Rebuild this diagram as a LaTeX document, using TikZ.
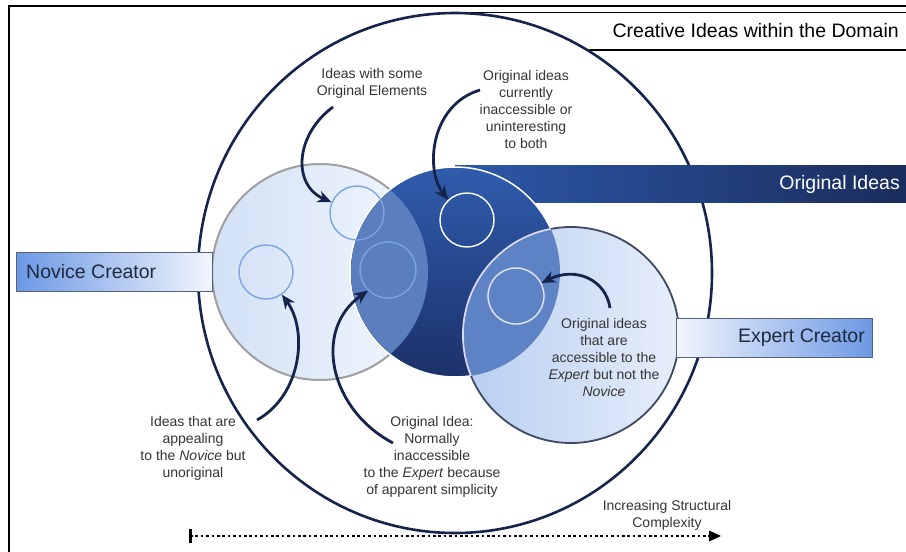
\documentclass[tikz,border=0pt]{standalone}
\usepackage{fontspec}
\setmainfont{Liberation Sans}
\usetikzlibrary{shapes.geometric,arrows.meta}
\definecolor{navy}{HTML}{15244A}
\definecolor{txt}{HTML}{353535}
\definecolor{boxtxt}{HTML}{1F2A40}
\definecolor{novA}{HTML}{D2E1F6}
\definecolor{novB}{HTML}{F2F7FD}
\definecolor{expA}{HTML}{B8CEF1}
\definecolor{expB}{HTML}{E6EEFA}
\definecolor{darkA}{HTML}{305CAD}
\definecolor{darkB}{HTML}{1C3169}
\definecolor{bandA}{HTML}{2D58A9}
\definecolor{bandB}{HTML}{1A2D5C}
\definecolor{midA}{HTML}{5B7EBF}
\definecolor{midB}{HTML}{5E83C4}
\definecolor{boxblue}{HTML}{6C98E4}
\definecolor{boxwhite}{HTML}{F2F6FD}
\definecolor{boxline}{HTML}{56627C}
\definecolor{ringblue}{HTML}{7BA4E0}
\definecolor{exline}{HTML}{3E4A63}
\begin{document}
\begin{tikzpicture}[x=1pt,y=-1pt,
  lbl/.style={font=\fontsize{14}{17}\selectfont, text=txt, align=center, inner sep=0pt},
  bigtxt/.style={font=\fontsize{19.5}{23}\selectfont, inner sep=0pt},
  arr/.style={draw=navy, line width=2.8pt, -{Stealth[length=14pt,width=12pt]}},
  smallc/.style={circle, minimum size=54pt, inner sep=0pt, line width=1.4pt},
  bigc/.style={circle, minimum size=216pt, inner sep=0pt},
  creatorbox/.style={rectangle, draw=boxline, line width=1pt, minimum width=196pt, minimum height=39pt, inner sep=0pt}]
\useasboundingbox (0,0) rectangle (906,552);
\fill[white] (0,0) rectangle (906,552);
% frame
\draw[line width=2.5pt] (9,552) -- (9,6) -- (906,6);
% title box
\fill[white] (455,12.5) rectangle (906,50);
\draw[line width=1.8pt] (455,12.5) -- (906,12.5);
\draw[line width=2.4pt] (455,50) -- (906,50);
\node[bigtxt, anchor=east] (title) at (899,31) {Creative Ideas within the Domain};
% domain circle
\node[ellipse, minimum width=514pt, minimum height=520pt, inner sep=0pt, draw=navy, line width=2.6pt, fill=white] (dom) at (455,273) {};
% band
\fill[left color=bandA, right color=bandB] (455,165) rectangle (906,202);
\node[bigtxt, text=white, anchor=east] (orig) at (900,184) {Original Ideas};
% novice circle
\node[bigc, left color=novA, right color=novB, draw=gray!75, line width=2pt] (nov) at (320,272) {};
% dark circle
\node[circle, minimum size=210pt, inner sep=0pt, top color=darkA, bottom color=darkB, draw=white, line width=1.5pt] (dark) at (455,272) {};
\begin{scope}
  \clip (dark.center) circle (104pt);
  \fill[midA] (nov.center) circle (108pt);
\end{scope}
% expert circle
\node[bigc, left color=expA, right color=expB] (exp) at (571,335) {};
\begin{scope}
  \clip (dark.center) circle (105pt);
  \fill[midB] (exp.center) circle (108pt);
\end{scope}
\draw[exline, line width=1.8pt] (exp.center) circle (108pt);
\begin{scope}
  \clip (dark.center) circle (105pt);
  \draw[white!85!blue, line width=1.8pt] (exp.center) circle (108pt);
\end{scope}
% small circles
\node[smallc, draw=ringblue] (sc1) at (357,213) {};
\node[smallc, draw=white] (sc2) at (467,220) {};
\node[smallc, draw=ringblue] (sc3) at (266,272) {};
\node[smallc, draw=ringblue, minimum size=56pt] (sc4) at (388,270) {};
\node[smallc, draw=white!90!blue, minimum size=56pt] (sc5) at (516,296) {};
% creator boxes
\node[creatorbox, left color=boxblue, right color=boxwhite] (novbox) at (114.5,272) {};
\node[bigtxt, text=boxtxt, anchor=west] (novtxt) at (26,272) {Novice Creator};
\node[creatorbox, left color=boxwhite, right color=boxblue] (expbox) at (774.5,338) {};
\node[bigtxt, text=boxtxt, anchor=east] (exptxt) at (865,338) {Expert Creator};
% labels
\node[lbl] (t1) at (372,83) {Ideas with some\\Original Elements};
\node[lbl] (t2) at (526,109) {Original ideas\\currently\\inaccessible or\\uninteresting\\to both};
\node[lbl] (t3) at (193,448) {Ideas that are\\appealing\\to the \textit{Novice} but\\unoriginal};
\node[lbl] (t4) at (432,457) {Original Idea:\\Normally\\inaccessible\\to the \textit{Expert} because\\of apparent simplicity};
\node[lbl] (t5) at (604,357) {Original ideas\\that are\\accessible to the\\\textit{Expert} but not the\\\textit{Novice}};
\node[lbl] (t6) at (667,515) {Increasing Structural\\Complexity};
% arrow start points
\coordinate (a1) at (333,107);
\coordinate (a2) at (480,90);
\coordinate (a3) at (257,420);
\coordinate (a4) at (393,443);
\coordinate (a5) at (610,308);
\draw[arr] (a1) .. controls (295,135) and (292,185) .. (sc1.157);
\draw[arr] (a2) .. controls (430,105) and (425,170) .. (sc2.133);
\draw[arr] (a3) .. controls (302,395) and (308,330) .. (sc3.-55);
\draw[arr] (a4) .. controls (330,410) and (312,330) .. (sc4.-134);
\draw[arr] (a5) .. controls (606,280) and (576,266) .. (sc5.27);
% complexity axis
\coordinate (ax0) at (190,536);
\coordinate (ax1) at (721,536);
\draw[line width=3pt] (190,529) -- (190,543);
\draw[line width=2.8pt, dash pattern=on 2.6pt off 2.8pt] (ax0) -- ([xshift=-10pt]ax1);
\draw[line width=0pt, -{Triangle[length=12pt,width=11pt]}, black] ([xshift=-12pt]ax1) -- (ax1);
\end{tikzpicture}
\end{document}
